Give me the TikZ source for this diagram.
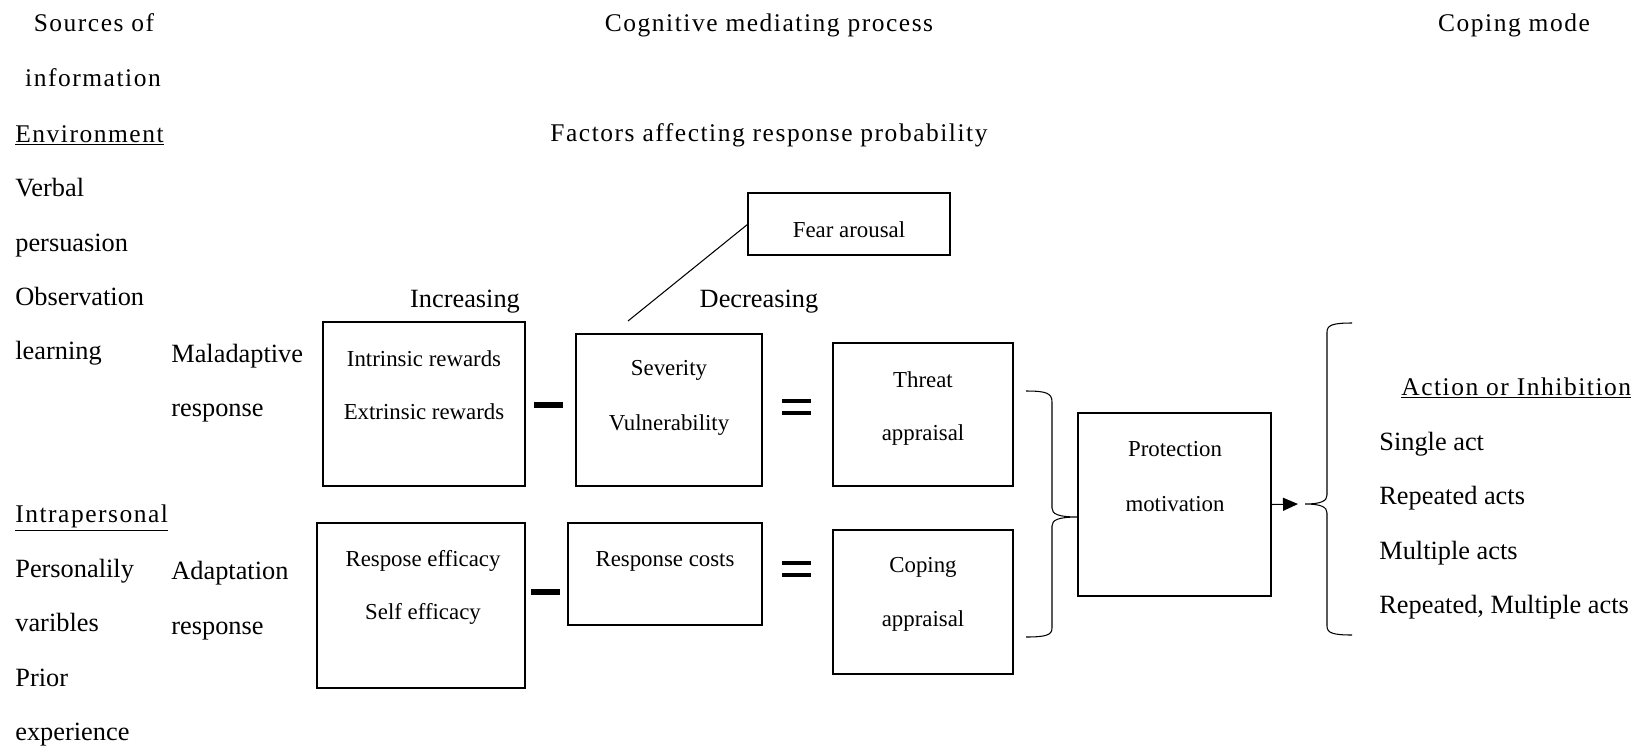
\documentclass[tikz,border=0pt]{standalone}
\usepackage{fontspec}
\setmainfont{Liberation Serif}
\newfontfamily\spacedfont[LetterSpace=6.0]{Liberation Serif}
\usetikzlibrary{arrows.meta}

\tikzset{
	box/.style={draw, line width=0.8pt, inner sep=0pt, outer sep=0pt},
	boxtext/.style={font=\fontsize{13}{15}\selectfont, inner sep=0pt},
	sidetext/.style={anchor=base west, font=\fontsize{15}{18}\selectfont, inner sep=0pt},
	headtext/.style={anchor=base, font=\spacedfont\fontsize{14.5}{17}\selectfont, inner sep=0pt},
	opbar/.style={line width=0.13cm},
	bracestroke/.style={line width=0.6pt},
}

\begin{document}
\begin{tikzpicture}[x=0.02cm, y=-0.02cm]
		\useasboundingbox (0,0) rectangle (1646,748);
		\node[headtext] (sources) at (94,31) {Sources of};
		\node[headtext] (information) at (93,86) {information};
		\node[headtext] (cognitive) at (769,31) {Cognitive mediating process};
		\node[headtext] (factors) at (769,141) {Factors affecting response probability};
		\node[headtext] (copingmode) at (1514,31) {Coping mode};
		\node[sidetext, font=\spacedfont\fontsize{14.5}{17}\selectfont] (environment) at (15,142) {\underline{Environment}};
		\node[sidetext] (verbal) at (15,196) {Verbal};
		\node[sidetext] (persuasion) at (15,251) {persuasion};
		\node[sidetext] (observation) at (15,305) {Observation};
		\node[sidetext] (learning) at (15,359) {learning};
		\node[sidetext] (maladaptive) at (171,362) {Maladaptive};
		\node[sidetext] (malresponse) at (171,416) {response};
		\node[sidetext, font=\spacedfont\fontsize{14.5}{17}\selectfont] (intrapersonal) at (15,522) {\underline{Intrapersonal}};
		\node[sidetext] (personalily) at (15,577) {Personalily};
		\node[sidetext] (varibles) at (15,631) {varibles};
		\node[sidetext] (prior) at (15,686) {Prior};
		\node[sidetext] (experience) at (15,740) {experience};
		\node[sidetext] (adaptation) at (171,579) {Adaptation};
		\node[sidetext] (adaresponse) at (171,634) {response};
		\node[sidetext, anchor=base] (increasing) at (465,307) {Increasing};
		\node[sidetext, anchor=base] (decreasing) at (759,307) {Decreasing};

		\node[box, minimum width=4.04cm, minimum height=1.24cm] (fear) at (849,224) {};
		\node[boxtext] (fear_txt) at (849,230) {Fear arousal};
		\node[box, minimum width=4.04cm, minimum height=3.28cm] (rewards) at (424,404) {};
		\node[boxtext] (rewards_int) at (424,359) {Intrinsic rewards};
		\node[boxtext] (rewards_ext) at (424,412) {Extrinsic rewards};
		\node[box, minimum width=3.72cm, minimum height=3.04cm] (severity) at (669,410) {};
		\node[boxtext] (severity_sev) at (669,370) {Severity};
		\node[boxtext] (severity_vul) at (669,425) {Vulnerability};
		\node[box, minimum width=3.6cm, minimum height=2.86cm] (threat) at (923,414.5) {};
		\node[boxtext] (threat_a) at (923,380) {Threat};
		\node[boxtext] (threat_b) at (923,435) {appraisal};
		\node[box, minimum width=4.16cm, minimum height=3.3cm] (efficacy) at (421,605.5) {};
		\node[boxtext] (efficacy_resp) at (423,561) {Respose efficacy};
		\node[boxtext] (efficacy_self) at (423,614) {Self efficacy};
		\node[box, minimum width=3.88cm, minimum height=2.04cm] (costs) at (665,574) {};
		\node[boxtext] (costs_txt) at (665,561) {Response costs};
		\node[box, minimum width=3.6cm, minimum height=2.88cm] (coping) at (923,602) {};
		\node[boxtext] (coping_a) at (923,567) {Coping};
		\node[boxtext] (coping_b) at (923,621) {appraisal};
		\node[box, minimum width=3.86cm, minimum height=3.66cm] (protection) at (1174.5,504.5) {};
		\node[boxtext] (protection_a) at (1175,449) {Protection};
		\node[boxtext] (protection_b) at (1175,504) {motivation};

		\draw[opbar] (534,405) -- (563,405);
		\draw[opbar] (531,592) -- (560,592);
		\draw[line width=0.095cm] (782,401) -- (811,401) (782,413) -- (811,413);
		\draw[line width=0.095cm] (782,563) -- (811,563) (782,575) -- (811,575);

		\coordinate (feartail) at (628,321);
		\draw[line width=0.6pt] (feartail) -- (fear.west);

		\draw[bracestroke] (1026,391) .. controls (1046,391) and (1052,393) .. (1052,402) -- (1052,508)
			.. controls (1052,514) and (1058,517) .. (1078,517) .. controls (1058,517) and (1052,520) .. (1052,526)
			-- (1052,628) .. controls (1052,635) and (1046,637) .. (1026,637);
		\draw[bracestroke] (1352,323) .. controls (1333,323) and (1327,325) .. (1327,332) -- (1327,495)
			.. controls (1327,501) and (1321,504) .. (1305,504) .. controls (1321,504) and (1327,507) .. (1327,513)
			-- (1327,626) .. controls (1327,633) and (1333,635) .. (1352,635);
		\coordinate (modetip) at (1298,504);
		\draw[-{Triangle[length=0.3cm, width=0.26cm]}, line width=0.6pt] (protection.east) -- (modetip);

		\node[sidetext, font=\spacedfont\fontsize{14.5}{17}\selectfont] (action) at (1401,395) {\underline{Action or Inhibition}};
		\node[sidetext] (single) at (1379,450) {Single act};
		\node[sidetext] (repeated) at (1379,504) {Repeated acts};
		\node[sidetext] (multiple) at (1379,559) {Multiple acts};
		\node[sidetext] (repmult) at (1379,613) {Repeated, Multiple acts};
\end{tikzpicture}
\end{document}
